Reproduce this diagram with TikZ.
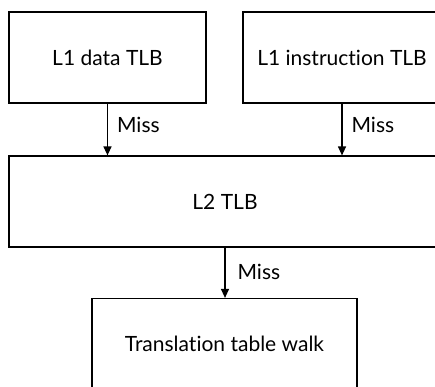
\documentclass[tikz,border=0pt]{standalone}
\usepackage{fontspec}
\setmainfont{Lato}[Ligatures=NoCommon]
\usepackage{tikz}
\usetikzlibrary{arrows.meta,calc}
\tikzset{every picture/.style={>={Triangle[width=8pt,length=9pt]}},
  block/.style={draw,rectangle,line width=1.2pt,font=\fontsize{21}{24}\selectfont},
  label/.style={font=\fontsize{21}{24}\selectfont,inner sep=0pt}}

\begin{document}
\begin{tikzpicture}[x=1pt,y=-1pt]
  \useasboundingbox (0,0) rectangle (435,386);
  \clip (0,0) rectangle (435,386);
  \node (l1d) [block,minimum width=197pt,minimum height=91pt] at (107.5,57.5) {L1 data TLB};
  \node (l1i) [block,minimum width=198pt,minimum height=91pt] at (342,57.5) {L1 instruction TLB};
  \node (l2) [block,minimum width=432pt,minimum height=91pt] at (225,201.5) {L2 TLB};
  \node (walk) [block,minimum width=265pt,minimum height=91pt] at (224.5,344) {Translation table walk};
  \draw [->,line width=1.2pt] (l1d) to node[label,right=9pt,pos=0.42] {Miss} (l1d |- l2.north);
  \draw [->,line width=1.2pt] (l1i) to node[label,right=9pt,pos=0.42] {Miss} (l1i |- l2.north);
  \draw [->,line width=1.2pt] (l2) to node[label,right=12pt,pos=0.48] {Miss} (l2 |- walk.north);
\end{tikzpicture}
\end{document}
